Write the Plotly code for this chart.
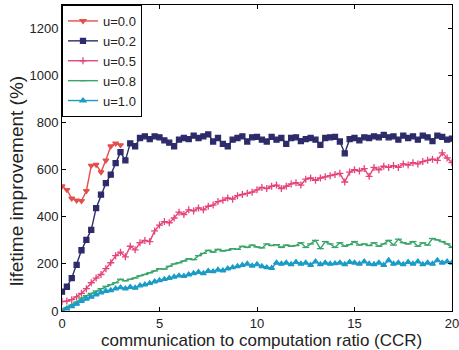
import plotly.graph_objects as go

# CCR grid (step 0.25)
ccr = [i * 0.25 for i in range(81)]

u00 = [530, 515, 478, 470, 468, 510, 618, 622, 590, 640, 700, 712, 705]

u02 = [82, 103, 140, 196, 258, 302, 345, 437,
       494, 543, 579, 628, 675, 640, 712, 700,
       735, 742, 730, 742, 738, 725, 715, 700,
       728, 735, 730, 745, 735, 742, 750, 720,
       735, 710, 700, 728, 735, 742, 720, 738,
       740, 728, 720, 740, 728, 735, 710, 735,
       738, 722, 730, 735, 728, 706, 735, 738,
       740, 720, 670, 730, 735, 725, 738, 735,
       742, 738, 748, 738, 742, 728, 745, 735,
       742, 728, 745, 738, 722, 745, 740, 728,
       732]

u05 = [40, 42, 48, 60, 75, 95, 120, 140,
       155, 180, 205, 235, 250, 230, 275, 260,
       290, 300, 295, 340, 365, 380, 375, 395,
       420, 410, 430, 425, 438, 430, 445, 450,
       465, 470, 480, 475, 490, 495, 500, 505,
       515, 525, 520, 530, 535, 520, 530, 540,
       545, 535, 560, 565, 555, 565, 570, 575,
       580, 585, 548, 590, 600, 595, 605, 572,
       610, 600, 615, 610, 618, 610, 625, 620,
       630, 625, 635, 640, 645, 640, 672, 650,
       630]

u08 = [5, 15, 25, 38, 55, 65, 75, 85,
       95, 105, 112, 120, 135, 128, 135, 140,
       150, 155, 162, 170, 180, 178, 190, 200,
       205, 212, 222, 218, 235, 245, 258, 250,
       262, 255, 258, 265, 262, 275, 270, 280,
       272, 268, 285, 278, 282, 270, 280, 275,
       278, 290, 270, 285, 300, 265, 295, 285,
       270, 290, 275, 282, 295, 280, 285, 278,
       290, 275, 285, 300, 280, 305, 290, 285,
       295, 275, 290, 280, 308, 302, 295, 285,
       270]

u10 = [0, 10, 20, 30, 42, 52, 60, 70,
       78, 85, 88, 95, 100, 95, 102, 98,
       108, 112, 118, 125, 130, 135, 140, 145,
       150, 148, 155, 160, 165, 160, 170, 168,
       175, 172, 180, 185, 190, 195, 200, 192,
       198, 190, 185, 182, 205, 200, 205, 198,
       208, 200, 205, 195, 210, 198, 205, 200,
       202, 205, 198, 208, 205, 200, 210, 200,
       198, 205, 195, 215, 200, 205, 198, 208,
       200, 210, 198, 205, 200, 215, 205, 210,
       205]

names = ["u=0.0", "u=0.2", "u=0.5", "u=0.8", "u=1.0"]
series = [u00, u02, u05, u08, u10]
colors = ["#e2504c", "#2e2b6a", "#e6437a", "#38a46a", "#1a9cc6"]
symbols = ["triangle-down", "square", "cross-thin", "line-ew", "triangle-up"]

x_title = "communication to computation ratio (CCR)"
y_title = "lifetime improvement (%)"

fig = go.Figure()
for name, ys, col, sym in zip(names, series, colors, symbols):
    fig.add_trace(go.Scatter(
        x=ccr[:len(ys)], y=ys, name=name, mode="lines+markers",
        line=dict(color=col, width=1.4),
        marker=dict(symbol=sym, size=5, color=col,
                    line=dict(color=col, width=1.3)),
    ))

axis_common = dict(showline=True, linecolor="black", linewidth=1,
                   mirror="ticks", ticks="inside", ticklen=4,
                   tickcolor="black", showgrid=False, zeroline=False,
                   ticklabeloverflow="allow", automargin=False,
                   tickfont=dict(family="Liberation Sans, Arial", size=13,
                                 color="#222"))

fig.update_layout(
    width=459, height=350,
    margin=dict(l=62, r=7, t=5, b=39),
    paper_bgcolor="white", plot_bgcolor="white",
    font=dict(family="Liberation Sans, Arial", color="#222"),
    showlegend=True,
    legend=dict(x=0.0, y=1.0, xanchor="left", yanchor="top",
                bordercolor="black", borderwidth=1, bgcolor="white",
                font=dict(size=13), tracegroupgap=0,
                itemwidth=30),
    xaxis=dict(range=[0, 20], tickvals=[0, 5, 10, 15, 20], **axis_common),
    yaxis=dict(range=[0, 1300], tickvals=[0, 200, 400, 600, 800, 1000, 1200],
               **axis_common),
    annotations=[
        dict(text=x_title, xref="paper", yref="paper", x=0.5115, y=-0.095,
             xanchor="center", yanchor="middle", showarrow=False,
             font=dict(size=17, color="#222")),
        dict(text=y_title, xref="paper", yref="paper", x=-0.1154, y=0.425,
             xanchor="center", yanchor="middle", showarrow=False,
             textangle=-90, font=dict(size=19, color="#222")),
    ],
)

fig.write_html("out.html",
               config={"displayModeBar": False},
               post_script="document.body.style.margin='0';"
                           "document.body.style.padding='0';")
